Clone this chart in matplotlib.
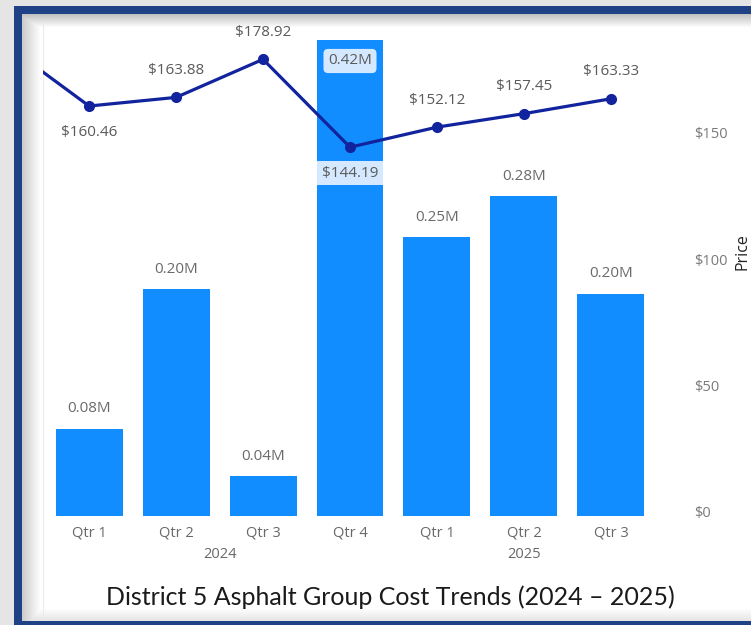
import matplotlib
matplotlib.use('Agg')
import matplotlib.pyplot as plt
import numpy as np

# District 5 asphalt group: quarterly cost (millions) and price
quarters = ['Qtr 1', 'Qtr 2', 'Qtr 3', 'Qtr 4', 'Qtr 1', 'Qtr 2', 'Qtr 3']
years = ['2024', '2025']
year_idx = [0, 0, 0, 0, 1, 1, 1]
cost_m = [0.077, 0.200, 0.035, 0.420, 0.246, 0.282, 0.196]
price = [160.46, 163.88, 178.92, 144.19, 152.12, 157.45, 163.33]
price_prev = 185.8  # Qtr 4 2023, only its segment shows at the left edge
price_below = [True, False, False, True, False, False, False]

BAR = '#118DFF'
LINE = '#12239E'
LBL = '#6A6866'
plt.rcParams['font.family'] = ['Open Sans', 'DejaVu Sans']

W, H = 751, 625
fig = plt.figure(figsize=(W / 100, H / 100), dpi=100)

# screenshot frame: gray surround, blue border, soft inner shadow
yy, xx = np.mgrid[0:H, 0:W]
shade = np.ones((H, W))
shade = np.minimum(shade, np.clip(0.80 + (xx - 22) / 18 * 0.20, 0, 1))
shade = np.minimum(shade, np.clip(0.76 + (yy - 14) / 13 * 0.24, 0, 1))
shade = np.minimum(shade, np.clip(0.90 + (620 - yy) / 12 * 0.10, 0, 1))
img = np.dstack([shade] * 3)
img[xx == 43] = np.minimum(img[xx == 43], 0.92)
blue = np.array([31, 66, 135]) / 255
frame = (xx >= 14) & (yy >= 6) & ((xx < 22) | (yy < 14) | (yy >= 621))
img[frame] = blue
img[(xx < 14) | (yy < 6)] = 0.9
bgax = fig.add_axes([0, 0, 1, 1])
bgax.imshow(img, aspect='auto', interpolation='nearest')
bgax.axis('off')

# plot area in pixels: x 43..657, y 25..516
ax = fig.add_axes([43 / W, (H - 516) / H, (657 - 43) / W, (516 - 25) / H])
ax.patch.set_visible(False)
x = np.arange(len(quarters))
ax.bar(x, cost_m, width=0.77, color=BAR, zorder=2)
ax.set_xlim(-0.53, 6.53)
ax.set_ylim(0, 0.42 * 491 / 476)
ax.set_yticks([])
ax.set_xticks(x, quarters)
ax.tick_params(axis='x', length=0, pad=7, labelsize=10.5, labelcolor=LBL)
for s in ax.spines.values():
    s.set_visible(False)

for i, year in enumerate(years):
    xs = [xi for xi, yi in zip(x, year_idx) if yi == i]
    ax.annotate(year, xy=(np.mean(xs), 0), xycoords=('data', 'axes fraction'),
                xytext=(0, -38), textcoords='offset pixels', ha='center', va='center',
                fontsize=10.5, color=LBL)

top = max(cost_m)
for xi, v in zip(x, cost_m):
    if v == top:
        ax.annotate('%.2fM' % v, xy=(xi, v), xytext=(0, -21), textcoords='offset pixels',
                    ha='center', va='center', fontsize=11, color='#5a5a5a', zorder=5,
                    bbox=dict(boxstyle='round,pad=0.3,rounding_size=0.3', fc='#D4E8FF',
                              ec='none'))
    else:
        ax.annotate('%.2fM' % v, xy=(xi, v), xytext=(0, 20), textcoords='offset pixels',
                    ha='center', va='center', fontsize=11, color='#6a6a6a')

ax2 = ax.twinx()
ax2.plot(np.arange(-1, len(price)), [price_prev] + price, color=LINE, lw=2.3,
         marker='o', ms=7, zorder=3)
ax2.set_ylim(-4 / 2.53, (512 - 25) / 2.53)
ax2.set_yticks([0, 50, 100, 150], ['$0', '$50', '$100', '$150'])
ax2.tick_params(axis='y', length=0, pad=27, labelsize=10.5, labelcolor='#7a7a7a')
for s in ax2.spines.values():
    s.set_visible(False)

for xi, p, below in zip(x, price, price_below):
    kw = {}
    if xi == 3:
        kw['bbox'] = dict(boxstyle='square,pad=0.3', fc='#D4E8FF', ec='none')
    ax2.annotate('$%.2f' % p, xy=(xi, p), xytext=(0, -26 if below else 27),
                 textcoords='offset pixels', ha='center', va='center',
                 fontsize=11, color='#5a5a5a', **kw)

fig.text(743 / W, 1 - 252 / H, 'Price', rotation=90, ha='center', va='center',
         fontsize=11.5, color='#252423')
fig.text(390 / W, 1 - 597 / H, 'District 5 Asphalt Group Cost Trends (2024 \u2013 2025)',
         ha='center', va='center', fontsize=18, family='Lato', color='#1a1a1a')

fig.savefig('out.png', dpi=100)
